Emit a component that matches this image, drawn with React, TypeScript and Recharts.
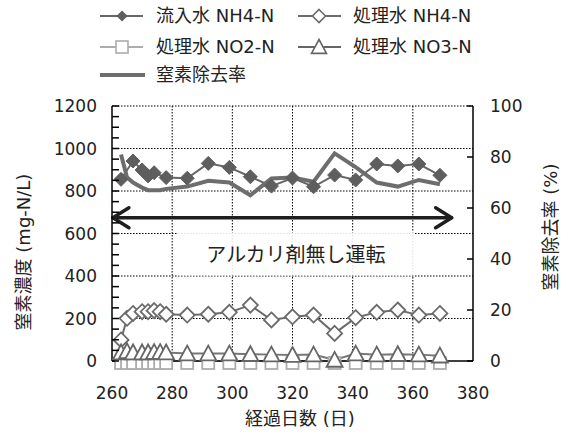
import React from "react";
import {
  CartesianGrid,
  ComposedChart,
  Line,
  ReferenceArea,
  ReferenceLine,
  XAxis,
  YAxis,
} from "recharts";

// sampling days (elapsed days)
const days = [263, 265, 267, 270, 272, 274, 276, 278, 285, 292, 299, 306, 313, 320, 327, 334, 341, 348, 355, 362, 369];
// mg-N/L
const influentNH4 = [855, null, 941, 899, 871, 886, null, 863, 860, 930, 911, 867, 823, 861, 820, 875, 852, 927, 918, 927, 874];
const treatedNH4 = [99, 201, 224, 232, 232, 237, 232, 220, 216, 220, 229, 263, 193, 208, 216, 130, 204, 229, 240, 216, 224];
const treatedNO2 = [0, 0, 0, 0, 0, 0, 0, 0, 0, 0, 0, 0, 0, 0, 0, 0, 0, 0, 0, 0, 0];
const treatedNO3 = [40, 45, 40, 40, 40, 42, 42, 40, 35, 35, 35, 32, 30, 28, 30, 5, 35, 30, 32, 30, 25];
// %
const removalRate = [81, 72, 70, 68, 67, 67, 67, 67.5, 68.4, 70.7, 70, 65, 71.6, 72, 70.3, 81.4, 76, 70, 68.4, 71, 69.3];

const xTicks = [260, 280, 300, 320, 340, 360, 380];
const leftTicks = [0, 50, 100, 150, 200, 250, 300, 350, 400, 450, 500, 550, 600, 650, 700, 750, 800, 850, 900, 950, 1000, 1050, 1100, 1150, 1200];
const leftGrid = [200, 400, 600, 800, 1000, 1200];
const rightTicks = [0, 20, 40, 60, 80, 100];

const data = days.map((d, i) => ({
  day: d,
  influentNH4: influentNH4[i],
  treatedNH4: treatedNH4[i],
  treatedNO2: treatedNO2[i],
  treatedNO3: treatedNO3[i],
  removal: removalRate[i],
}));

const FONT = '"DejaVu Sans", "Noto Sans CJK JP", sans-serif';
const TEXT = "#222";

const diamond = (cx: number, cy: number, r: number) =>
  `M${cx},${cy - r}L${cx + r},${cy}L${cx},${cy + r}L${cx - r},${cy}Z`;
const triangle = (cx: number, cy: number, r: number) =>
  `M${cx},${cy - r}L${cx + r},${cy + r * 0.85}L${cx - r},${cy + r * 0.85}Z`;

const FilledDiamond = (p: any) =>
  p.cx == null || p.value == null ? <g /> : <path d={diamond(p.cx, p.cy, 7)} fill="#5e5e5e" stroke="#5e5e5e" strokeWidth={1} />;
const OpenDiamond = (p: any) =>
  p.cx == null || p.value == null ? <g /> : <path d={diamond(p.cx, p.cy, 7.5)} fill="#fff" stroke="#6b6b6b" strokeWidth={1.8} />;
const OpenSquare = (p: any) =>
  p.cx == null || p.value == null ? <g /> : <rect x={p.cx - 6} y={p.cy - 4} width={12} height={12} fill="#fff" stroke="#acacac" strokeWidth={1.8} />;
const OpenTriangle = (p: any) =>
  p.cx == null || p.value == null ? <g /> : <path d={triangle(p.cx, p.cy, 8)} fill="#fff" stroke="#666" strokeWidth={1.8} />;

const LeftTick = (p: any) => {
  const v = p.payload.value;
  return (
    <g>
      <line x1={p.x} x2={p.x + 7} y1={p.y} y2={p.y} stroke="#000" strokeWidth={1.5} />
      {v % 200 === 0 && (
        <text x={p.x - 15} y={p.y} dy={6} textAnchor="end" fontSize={17} fontFamily={FONT} fill={TEXT}>
          {v}
        </text>
      )}
    </g>
  );
};

const RightTick = (p: any) => (
  <g>
    <line x1={p.x} x2={p.x - 6} y1={p.y} y2={p.y} stroke="#000" strokeWidth={1.5} />
    <text x={p.x + 17} y={p.y} dy={6} textAnchor="start" fontSize={17} fontFamily={FONT} fill={TEXT}>
      {p.payload.value}
    </text>
  </g>
);

const BottomTick = (p: any) => (
  <text x={p.x} y={p.y + 38} textAnchor="middle" fontSize={17} fontFamily={FONT} fill={TEXT}>
    {p.payload.value}
  </text>
);

const Arrow = (p: any) => {
  const { x1, y1, x2, y2 } = p;
  return (
    <g stroke="#1e1e1e" strokeWidth={3.5} fill="none" strokeLinecap="round" strokeLinejoin="round">
      <line x1={x1} y1={y1} x2={x2} y2={y2} />
      <polyline points={`${x1 + 16},${y1 - 10} ${x1},${y1} ${x1 + 16},${y1 + 10}`} />
      <polyline points={`${x2 - 16},${y2 - 10} ${x2},${y2} ${x2 - 16},${y2 + 10}`} />
    </g>
  );
};

function LegendBox() {
  return (
    <svg width={569} height={95} style={{ position: "absolute", left: 0, top: 0, pointerEvents: "none" }}>
      <g fontFamily={FONT} fontSize={18} fill={TEXT}>
        <line x1={100} x2={143} y1={16} y2={16} stroke="#666" strokeWidth={2} />
        <path d={diamond(122, 16, 5.5)} fill="#5e5e5e" />
        <text x={156} y={22}>流入水 NH4-N</text>

        <line x1={298} x2={341} y1={16} y2={16} stroke="#6b6b6b" strokeWidth={2} />
        <path d={diamond(319, 16, 6.5)} fill="#fff" stroke="#6b6b6b" strokeWidth={1.6} />
        <text x={353} y={22}>処理水 NH4-N</text>

        <line x1={100} x2={143} y1={47} y2={47} stroke="#acacac" strokeWidth={2} />
        <rect x={116} y={41} width={12} height={12} fill="#fff" stroke="#acacac" strokeWidth={1.6} />
        <text x={156} y={53}>処理水 NO2-N</text>

        <line x1={298} x2={341} y1={47} y2={47} stroke="#666" strokeWidth={2} />
        <path d={triangle(319, 47, 7.5)} fill="#fff" stroke="#666" strokeWidth={1.6} />
        <text x={353} y={53}>処理水 NO3-N</text>

        <line x1={100} x2={145} y1={75} y2={75} stroke="#6d6d6d" strokeWidth={4} />
        <text x={156} y={81}>窒素除去率</text>
      </g>
    </svg>
  );
}

export default function App() {
  return (
    <div style={{ position: "absolute", left: 0, top: 0, width: 569, height: 437, background: "#fff" }}>
      <LegendBox />
      <ComposedChart width={569} height={437} data={data} margin={{ top: 106, right: 0, bottom: 0, left: 0 }}>
        <CartesianGrid
          yAxisId="left"
          horizontalValues={leftGrid}
          verticalValues={[280, 300, 320, 340, 360]}
          stroke="#000"
          strokeDasharray="1.5 1.5"
          strokeWidth={1}
        />
        <XAxis
          dataKey="day"
          type="number"
          domain={[260, 380]}
          ticks={xTicks}
          height={76}
          tickSize={0}
          tickMargin={0}
          tickLine={false}
          axisLine={{ stroke: "#000", strokeWidth: 1.5 }}
          tick={<BottomTick />}
          interval={0}
          label={() => (
            <text x={300} y={425} textAnchor="middle" fontSize={18} fontFamily={FONT} fill={TEXT}>
              経過日数 (日)
            </text>
          )}
        />
        <YAxis
          yAxisId="left"
          domain={[0, 1200]}
          ticks={leftTicks}
          width={112}
          tickSize={0}
          tickMargin={0}
          tickLine={false}
          interval={0}
          axisLine={{ stroke: "#000", strokeWidth: 1.5 }}
          tick={<LeftTick />}
          label={() => (
            <text
              x={30}
              y={252}
              transform="rotate(-90 30 252)"
              textAnchor="middle"
              fontSize={18}
              fontFamily={FONT}
              fill={TEXT}
            >
              窒素濃度 (mg-N/L)
            </text>
          )}
        />
        <YAxis
          yAxisId="right"
          orientation="right"
          domain={[0, 100]}
          ticks={rightTicks}
          width={96}
          tickSize={0}
          tickMargin={0}
          tickLine={false}
          interval={0}
          axisLine={{ stroke: "#000", strokeWidth: 1.5 }}
          tick={<RightTick />}
          label={() => (
            <text
              x={557}
              y={227}
              transform="rotate(-90 557 227)"
              textAnchor="middle"
              fontSize={18}
              fontFamily={FONT}
              fill={TEXT}
            >
              窒素除去率 (%)
            </text>
          )}
        />
        <ReferenceArea
          yAxisId="left"
          x1={281.6}
          x2={360.7}
          y1={402}
          y2={606}
          fill="#fff"
          fillOpacity={0.88}
          stroke="none"
          label={(p: any) => {
            const vb = p.viewBox;
            return (
              <text
                x={vb.x + vb.width / 2}
                y={vb.y + vb.height / 2 + 8}
                textAnchor="middle"
                fontSize={20}
                fontFamily={FONT}
                fill={TEXT}
              >
                アルカリ剤無し運転
              </text>
            );
          }}
        />
        <ReferenceLine
          yAxisId="left"
          segment={[
            { x: 260.3, y: 674 },
            { x: 372.9, y: 674 },
          ]}
          shape={Arrow}
        />
        <Line
          yAxisId="left"
          dataKey="influentNH4"
          type="linear"
          stroke="#666"
          strokeWidth={2}
          dot={FilledDiamond}
          connectNulls
          isAnimationActive={false}
        />
        <Line
          yAxisId="left"
          dataKey="treatedNH4"
          type="linear"
          stroke="#6b6b6b"
          strokeWidth={2}
          dot={OpenDiamond}
          isAnimationActive={false}
        />
        <Line
          yAxisId="left"
          dataKey="treatedNO2"
          type="linear"
          stroke="#acacac"
          strokeWidth={2}
          dot={OpenSquare}
          isAnimationActive={false}
        />
        <Line
          yAxisId="left"
          dataKey="treatedNO3"
          type="linear"
          stroke="#777"
          strokeWidth={2}
          dot={OpenTriangle}
          isAnimationActive={false}
        />
        <Line
          yAxisId="right"
          dataKey="removal"
          type="linear"
          stroke="#6d6d6d"
          strokeWidth={4}
          dot={false}
          isAnimationActive={false}
        />
      </ComposedChart>
    </div>
  );
}
